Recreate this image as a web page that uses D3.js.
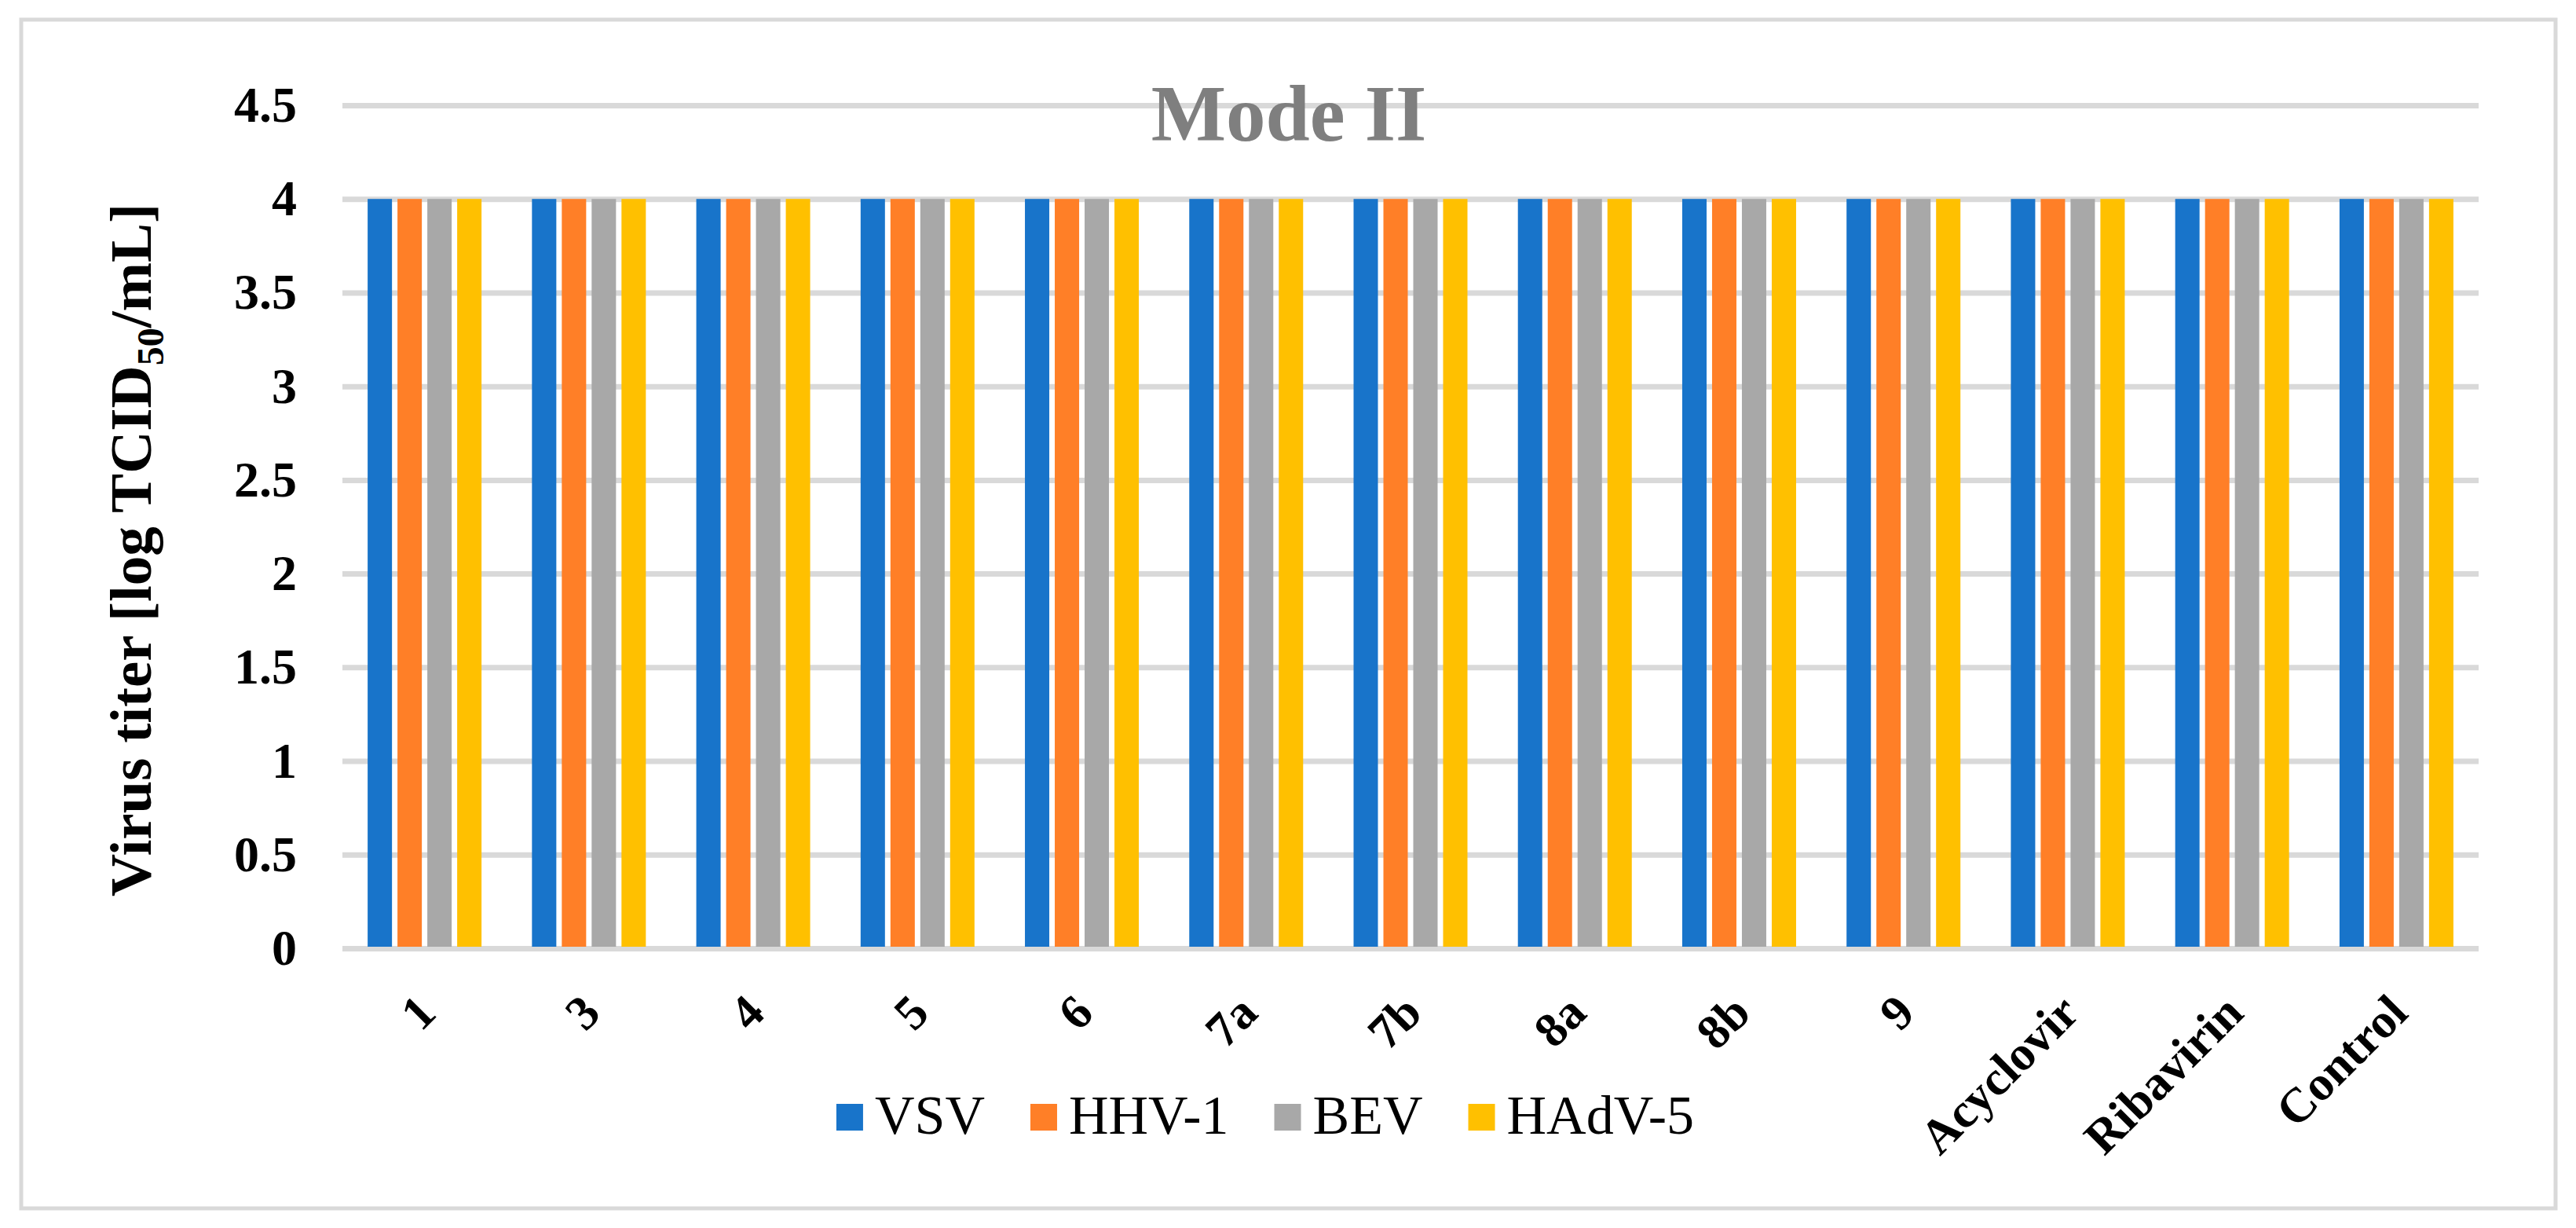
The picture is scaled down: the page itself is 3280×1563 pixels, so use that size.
<!DOCTYPE html>
<html>
<head>
<meta charset="utf-8">
<script src="https://cdn.jsdelivr.net/npm/d3@7"></script>
<style>
  body { margin: 0; background: #fff; }
  svg { display: block; }
</style>
</head>
<body>
<svg id="chart"></svg>
<script>
// chart data
const categories = ["1", "3", "4", "5", "6", "7a", "7b", "8a", "8b", "9", "Acyclovir", "Ribavirin", "Control"]
const seriesNames = ["VSV", "HHV-1", "BEV", "HAdV-5"]
const vsv   = [4, 4, 4, 4, 4, 4, 4, 4, 4, 4, 4, 4, 4]
const hhv1  = [4, 4, 4, 4, 4, 4, 4, 4, 4, 4, 4, 4, 4]
const bev   = [4, 4, 4, 4, 4, 4, 4, 4, 4, 4, 4, 4, 4]
const hadv5 = [4, 4, 4, 4, 4, 4, 4, 4, 4, 4, 4, 4, 4]
const yTicks = [0, 0.5, 1, 1.5, 2, 2.5, 3, 3.5, 4, 4.5]
const colors = ["#1874CA", "#FF7F27", "#A8A8A8", "#FFC000"]

const seriesValues = [vsv, hhv1, bev, hadv5]
const W = 3280, H = 1563
const serif = "'Liberation Serif', 'Times New Roman', serif"

const svg = d3.select("#chart")
  .attr("width", W)
  .attr("height", H)
  .style("background", "#fff")

// outer frame
svg.append("rect")
  .attr("x", 27).attr("y", 25)
  .attr("width", 3227).attr("height", 1513)
  .attr("fill", "none")
  .attr("stroke", "#d9d9d9")
  .attr("stroke-width", 5)

const plot = {left: 436, right: 3156, top: 134, bottom: 1207}

const x0 = d3.scaleBand()
  .domain(categories)
  .range([plot.left, plot.right])
  .padding(0)

const groupW = 145
const x1 = d3.scaleBand()
  .domain(seriesNames)
  .range([0, groupW])
  .paddingInner(0.184)

const y = d3.scaleLinear()
  .domain([0, 4.5])
  .range([plot.bottom, plot.top])

// gridlines
const grid = svg.append("g")
  .attr("transform", "translate(" + plot.left + ",0)")
  .call(d3.axisLeft(y).tickValues(yTicks).tickSize(-(plot.right - plot.left)).tickFormat(""))
grid.select(".domain").remove()
grid.selectAll("line")
  .attr("stroke", "#d9d9d9")
  .attr("stroke-width", 7)

// title (drawn over the top gridline)
svg.append("text")
  .attr("x", 1641)
  .attr("y", 179)
  .attr("text-anchor", "middle")
  .attr("font-family", serif)
  .attr("font-weight", "bold")
  .attr("font-size", "101px")
  .attr("fill", "#7f7f7f")
  .text("Mode II")

// bars
const rows = []
categories.forEach(function(c, i) {
  seriesNames.forEach(function(s, j) {
    rows.push({cat: c, series: s, value: seriesValues[j][i], color: colors[j]})
  })
})

svg.append("g")
  .selectAll("rect")
  .data(rows)
  .enter()
  .append("rect")
  .attr("x", function(d) { return x0(d.cat) + (x0.bandwidth() - groupW) / 2 + x1(d.series) })
  .attr("y", function(d) { return y(d.value) })
  .attr("width", x1.bandwidth())
  .attr("height", function(d) { return y(0) - 2 - y(d.value) })
  .attr("fill", function(d) { return d.color })

// y tick labels
const yAxis = svg.append("g")
  .attr("transform", "translate(378,0)")
  .call(d3.axisLeft(y).tickValues(yTicks).tickSize(0).tickPadding(0).tickFormat(function(d) { return String(d) }))
yAxis.select(".domain").remove()
yAxis.selectAll("text")
  .attr("font-family", serif)
  .attr("font-weight", "bold")
  .attr("font-size", "64px")
  .attr("fill", "#000")

// x labels rotated
svg.append("g")
  .selectAll("text")
  .data(categories)
  .enter()
  .append("text")
  .attr("transform", function(d) {
    return "translate(" + (x0(d) + x0.bandwidth() / 2 + 2) + ",1277) rotate(-45)"
  })
  .attr("dy", "0.35em")
  .attr("text-anchor", "end")
  .attr("font-family", serif)
  .attr("font-weight", "bold")
  .attr("font-size", "62px")
  .attr("fill", "#000")
  .text(function(d) { return d })

// y axis title
const yTitle = svg.append("text")
  .attr("transform", "translate(192,700) rotate(-90)")
  .attr("text-anchor", "middle")
  .attr("font-family", serif)
  .attr("font-weight", "bold")
  .attr("font-size", "75px")
  .attr("fill", "#000")
yTitle.append("tspan").text("Virus titer [log TCID")
yTitle.append("tspan").attr("dy", 16).attr("font-size", "48px").text("50")
yTitle.append("tspan").attr("dy", -16).text("/mL]")

// legend
const legend = svg.append("g")
let lx = 0
seriesNames.forEach(function(s, j) {
  const item = legend.append("g").attr("transform", "translate(" + lx + ",0)")
  item.append("rect")
    .attr("x", 0).attr("y", 1405)
    .attr("width", 34).attr("height", 34)
    .attr("fill", colors[j])
  const t = item.append("text")
    .attr("x", 49).attr("y", 1443)
    .attr("font-family", serif)
    .attr("font-size", "70px")
    .attr("fill", "#000")
    .text(s)
  lx += 49 + t.node().getComputedTextLength() + 58
})
const legendW = lx - 58
legend.attr("transform", "translate(" + (1611 - legendW / 2) + ",0)")
</script>
</body>
</html>
